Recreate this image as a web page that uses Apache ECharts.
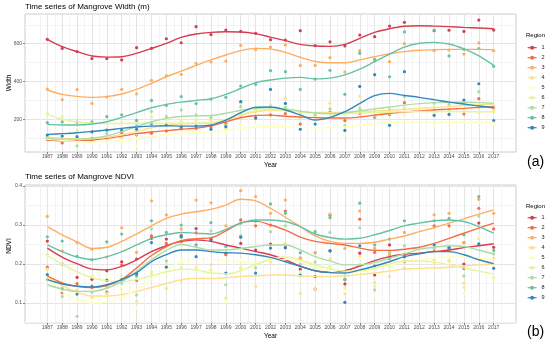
<!DOCTYPE html>
<html><head><meta charset="utf-8">
<script src="https://cdn.jsdelivr.net/npm/echarts@6/dist/echarts.min.js"></script>
<style>html,body{margin:0;padding:0;background:#fff}#c{width:550px;height:343px}</style>
</head><body><div id="c"></div>
<script>
const regions = ['1','2','3','4','5','6','7','8','9'];
const regionColors = ['#D53E4F','#F46D43','#FDAE61','#FEE08B','#FFFFBF','#E6F598','#ABDDA4','#66C2A5','#3288BD'];
const pointYears = [1987,1988,1989,1990,1991,1992,1993,1994,1995,1996,1997,1998,1999,2000,2001,2002,2003,2004,2005,2006,2007,2008,2009,2010,2011,2013,2014,2015,2016,2017];
const fitYears = [1987,1988,1989,1990,1991,1992,1993,1994,1995,1996,1997,1998,1999,2000,2001,2002,2003,2004,2005,2006,2007,2008,2009,2010,2011,2012,2013,2014,2015,2016,2017];
const yearTicks = fitYears;
const widthTicks = [200,400,600];
const ndviTicks = [0.1,0.2,0.3,0.4];

// Panel (a) Mangrove width – observed points
const widthPts1 = [623,575,558,521,521,514,579,575,626,605,690,648,672,665,655,621,619,669,590,610,588,646,637,693,713,669,671,665,725,672];
const widthPts2 = [94,75,88,85,101,129,118,126,138,150,152,160,179,223,205,223,230,175,215,235,193,232,211,225,288,245,249,228,309,262];
const widthPts3 = [360,304,357,284,318,358,334,406,431,438,496,503,508,591,568,582,593,485,485,526,450,563,508,505,600,563,566,545,604,563];
const widthPts4 = [108,95,140,100,100,105,122,165,175,188,196,196,152,293,240,276,311,205,223,285,230,323,245,230,258,263,275,283,262,249];
const widthPts5 = [99,90,80,75,78,82,59,110,118,128,135,140,129,170,170,160,165,150,152,160,122,170,172,180,209,170,180,185,182,172];
const widthPts6 = [230,214,140,180,180,185,190,214,200,188,200,210,152,285,250,249,265,220,215,240,230,267,250,240,265,240,245,250,235,240];
const widthPts7 = [104,100,59,100,125,140,170,241,214,249,223,209,170,267,260,264,262,238,225,255,166,255,218,250,320,285,281,290,346,267];
const widthPts8 = [182,186,185,186,214,224,194,300,274,320,283,307,316,376,385,457,452,358,413,459,332,549,517,425,662,672,535,570,574,480];
const widthPts9 = [117,111,108,133,143,141,147,178,171,159,164,147,161,293,209,358,284,148,175,235,141,374,436,168,452,221,226,302,388,193];
// Panel (a) smoothed curves
const widthFit1 = [623,584,558,535,529,531,549,575,602,633,651,660,663,662,653,635,616,596,588,586,596,628,660,679,692,695,693,690,686,683,679];
const widthFit2 = [90,86,85,90,99,111,124,133,140,147,153,165,187,208,220,222,216,212,209,207,207,212,222,231,238,244,249,254,258,263,267];
const widthFit3 = [355,332,321,316,320,334,358,390,425,455,485,514,540,563,575,572,554,528,506,499,499,514,531,547,558,565,568,570,570,570,568];
const widthFit4 = [105,100,97,98,105,118,135,155,168,175,178,180,195,220,240,248,245,240,236,236,237,240,243,247,252,257,262,267,272,277,281];
const widthFit5 = [95,88,83,80,82,88,98,108,118,126,130,134,142,152,158,162,160,157,156,156,160,168,177,183,186,186,185,185,184,184,184];
const widthFit6 = [226,200,186,180,178,178,180,180,180,180,180,183,200,225,245,252,248,240,233,230,230,233,236,238,240,241,241,241,240,240,240];
const widthFit7 = [100,95,95,100,112,135,162,187,205,215,218,220,232,248,258,262,255,243,233,230,235,245,255,265,275,283,288,290,290,288,285];
const widthFit8 = [173,170,170,175,187,210,235,261,279,291,300,309,332,363,394,408,418,422,414,418,435,465,505,545,582,602,607,598,572,535,485];
const widthFit9 = [120,124,129,136,143,152,159,164,166,164,164,170,196,235,263,265,249,223,196,210,240,284,325,337,326,316,304,291,281,270,261];

// Panel (b) Mangrove NDVI – observed points
const ndviPts1 = [0.259,0.200,0.166,0.161,0.183,0.206,0.213,0.266,0.264,0.273,0.291,0.262,0.228,0.253,0.236,0.251,0.242,0.187,0.136,0.234,0.149,0.228,0.172,0.249,0.206,0.232,0.242,0.200,0.305,0.243];
const ndviPts2 = [0.192,0.127,0.150,0.140,0.128,0.198,0.158,0.272,0.253,0.258,0.280,0.265,0.224,0.313,0.298,0.300,0.336,0.215,0.229,0.325,0.160,0.315,0.230,0.230,0.225,0.298,0.298,0.255,0.343,0.290];
const ndviPts3 = [0.322,0.234,0.255,0.238,0.218,0.293,0.230,0.362,0.326,0.290,0.364,0.357,0.298,0.388,0.373,0.330,0.364,0.215,0.229,0.328,0.240,0.336,0.240,0.224,0.281,0.326,0.330,0.255,0.366,0.330];
const ndviPts4 = [0.187,0.140,0.134,0.115,0.125,0.138,0.104,0.177,0.138,0.157,0.190,0.198,0.113,0.189,0.143,0.206,0.253,0.125,0.136,0.213,0.124,0.220,0.153,0.168,0.190,0.211,0.208,0.151,0.250,0.215];
const ndviPts5 = [0.221,0.113,0.105,0.107,0.170,0.140,0.087,0.228,0.174,0.210,0.187,0.185,0.104,0.210,0.200,0.219,0.220,0.160,0.150,0.200,0.130,0.215,0.121,0.200,0.215,0.230,0.225,0.125,0.270,0.162];
const ndviPts6 = [0.225,0.200,0.130,0.168,0.160,0.170,0.168,0.180,0.200,0.190,0.188,0.185,0.113,0.190,0.200,0.205,0.210,0.180,0.190,0.195,0.140,0.200,0.143,0.195,0.210,0.200,0.210,0.140,0.265,0.165];
const ndviPts7 = [0.160,0.117,0.066,0.128,0.141,0.151,0.121,0.290,0.208,0.269,0.249,0.285,0.147,0.273,0.190,0.283,0.298,0.200,0.205,0.281,0.170,0.293,0.134,0.230,0.247,0.240,0.236,0.170,0.323,0.226];
const ndviPts8 = [0.270,0.259,0.220,0.211,0.257,0.277,0.170,0.311,0.281,0.300,0.249,0.306,0.245,0.305,0.310,0.354,0.330,0.229,0.283,0.319,0.161,0.356,0.249,0.264,0.311,0.311,0.317,0.275,0.373,0.235];
const ndviPts9 = [0.173,0.136,0.123,0.143,0.158,0.160,0.175,0.255,0.192,0.270,0.219,0.262,0.177,0.269,0.177,0.241,0.242,0.172,0.168,0.234,0.102,0.247,0.195,0.215,0.219,0.249,0.242,0.189,0.252,0.189];
// Panel (b) smoothed curves
const ndviFit1 = [0.241,0.218,0.201,0.187,0.185,0.194,0.211,0.232,0.247,0.258,0.262,0.258,0.249,0.241,0.232,0.224,0.211,0.195,0.183,0.179,0.183,0.195,0.209,0.219,0.225,0.228,0.232,0.236,0.242,0.247,0.252];
const ndviFit2 = [0.170,0.152,0.143,0.140,0.145,0.160,0.190,0.222,0.245,0.260,0.265,0.267,0.285,0.305,0.310,0.300,0.287,0.269,0.258,0.253,0.249,0.241,0.235,0.235,0.238,0.243,0.253,0.266,0.279,0.292,0.305];
const ndviFit3 = [0.296,0.275,0.257,0.240,0.243,0.258,0.277,0.298,0.317,0.328,0.334,0.340,0.351,0.366,0.362,0.343,0.320,0.296,0.272,0.258,0.253,0.253,0.256,0.264,0.272,0.283,0.293,0.305,0.316,0.328,0.339];
const ndviFit4 = [0.165,0.145,0.128,0.118,0.118,0.122,0.130,0.140,0.150,0.160,0.163,0.163,0.165,0.168,0.170,0.172,0.172,0.170,0.168,0.168,0.170,0.173,0.177,0.182,0.187,0.189,0.190,0.192,0.195,0.198,0.200];
const ndviFit5 = [0.160,0.130,0.110,0.100,0.103,0.115,0.135,0.160,0.185,0.205,0.212,0.212,0.208,0.205,0.205,0.210,0.212,0.205,0.192,0.182,0.178,0.180,0.188,0.197,0.206,0.212,0.216,0.218,0.218,0.215,0.212];
const ndviFit6 = [0.222,0.200,0.180,0.165,0.157,0.155,0.160,0.170,0.180,0.187,0.185,0.177,0.175,0.183,0.198,0.213,0.218,0.210,0.198,0.188,0.182,0.183,0.190,0.200,0.208,0.208,0.205,0.198,0.190,0.182,0.175];
const ndviFit7 = [0.147,0.136,0.130,0.130,0.138,0.155,0.181,0.211,0.235,0.250,0.243,0.236,0.236,0.240,0.245,0.249,0.249,0.236,0.219,0.208,0.198,0.198,0.204,0.215,0.226,0.238,0.243,0.247,0.245,0.236,0.226];
const ndviFit8 = [0.249,0.232,0.218,0.212,0.219,0.232,0.249,0.266,0.275,0.281,0.279,0.277,0.289,0.305,0.313,0.313,0.309,0.296,0.277,0.268,0.264,0.266,0.275,0.286,0.298,0.305,0.311,0.313,0.309,0.296,0.279];
const ndviFit9 = [0.160,0.149,0.143,0.141,0.147,0.160,0.178,0.206,0.224,0.236,0.236,0.232,0.229,0.228,0.224,0.217,0.206,0.194,0.183,0.178,0.177,0.185,0.195,0.206,0.219,0.226,0.232,0.232,0.224,0.211,0.201];

const widthPts = [widthPts1,widthPts2,widthPts3,widthPts4,widthPts5,widthPts6,widthPts7,widthPts8,widthPts9];
const widthFit = [widthFit1,widthFit2,widthFit3,widthFit4,widthFit5,widthFit6,widthFit7,widthFit8,widthFit9];
const ndviPts = [ndviPts1,ndviPts2,ndviPts3,ndviPts4,ndviPts5,ndviPts6,ndviPts7,ndviPts8,ndviPts9];
const ndviFit = [ndviFit1,ndviFit2,ndviFit3,ndviFit4,ndviFit5,ndviFit6,ndviFit7,ndviFit8,ndviFit9];

const FONT = '"Liberation Sans", Arial, Helvetica, sans-serif';
const MAJ = '#e4e4e4', MIN = '#f3f3f3';

// gridline positions (axis config, not data)
const xGrid = []; for (let v = 1986.5; v <= 2017.5001; v += 0.5) xGrid.push(+v.toFixed(1));
const xGridCol = xGrid.map(v => Number.isInteger(v) ? MAJ : MIN);
const wGrid = [100,200,300,400,500,600,700];
const wGridCol = wGrid.map(v => v % 200 === 0 ? MAJ : MIN);
const nGrid = [0.05,0.1,0.15,0.2,0.25,0.3,0.35,0.4];
const nGridCol = nGrid.map((v,i) => i % 2 === 1 ? MAJ : MIN);

const panels = [
  {top: 14, ymin: 27, ymax: 757, grid: wGrid, gridCol: wGridCol, ticks: widthTicks, fmt: v => String(v), pts: widthPts, fit: widthFit},
  {top: 185, ymin: 0.049, ymax: 0.4026, grid: nGrid, gridCol: nGridCol, ticks: ndviTicks, fmt: v => v.toFixed(1), pts: ndviPts, fit: ndviFit}
];

const grids = [], xAxes = [], yAxes = [], series = [];
panels.forEach((p, g) => {
  grids.push({left: 25, top: p.top, width: 491, height: 138, show: true, borderColor: '#cccccc', borderWidth: 1, backgroundColor: '#fff'});
  xAxes.push({type: 'value', gridIndex: g, min: 1985.5, max: 2018.5, position: 'bottom',
    axisLine: {show: false}, axisLabel: {show: false},
    axisTick: {show: false, customValues: xGrid},
    splitLine: {show: true, lineStyle: {color: xGridCol, width: 1}}});
  xAxes.push({type: 'value', gridIndex: g, min: 1985.5, max: 2018.5, position: 'bottom',
    axisLine: {show: false}, splitLine: {show: false},
    axisTick: {show: true, customValues: yearTicks, length: 2, lineStyle: {color: '#333', width: 0.6}},
    axisLabel: {customValues: yearTicks, fontSize: 5, color: '#4d4d4d', margin: 2, fontFamily: FONT, formatter: v => String(v)}});
  yAxes.push({type: 'value', gridIndex: g, min: p.ymin, max: p.ymax, position: 'left',
    axisLine: {show: false}, axisLabel: {show: false},
    axisTick: {show: false, customValues: p.grid},
    splitLine: {show: true, lineStyle: {color: p.gridCol, width: 1}}});
  yAxes.push({type: 'value', gridIndex: g, min: p.ymin, max: p.ymax, position: 'left',
    axisLine: {show: false}, splitLine: {show: false},
    axisTick: {show: true, customValues: p.ticks, length: 2, lineStyle: {color: '#333', width: 0.6}},
    axisLabel: {customValues: p.ticks, fontSize: 5, color: '#4d4d4d', margin: 3, fontFamily: FONT, formatter: p.fmt}});
  regions.forEach((r, i) => {
    series.push({type: 'scatter', name: 'pts' + g + '_' + r, xAxisIndex: 2 * g, yAxisIndex: 2 * g,
      symbol: 'circle', symbolSize: 3.2, itemStyle: {color: regionColors[i], opacity: 1}, z: 2, silent: true,
      data: pointYears.map((y, k) => [y, p.pts[i][k]])});
  });
  regions.forEach((r, i) => {
    series.push({type: 'line', name: r, xAxisIndex: 2 * g, yAxisIndex: 2 * g,
      smooth: 0.35, showSymbol: false, symbol: 'circle', symbolSize: 4, z: 3, silent: true,
      itemStyle: {color: regionColors[i]}, lineStyle: {color: regionColors[i], width: 1.4},
      data: fitYears.map((y, k) => [y, p.fit[i][k]])});
  });
});

const legendBase = {orient: 'vertical', left: 527, itemWidth: 9, itemHeight: 5, itemGap: 4, padding: 0,
  selectedMode: false, data: regions, lineStyle: {width: 1.2},
  textStyle: {fontSize: 5.5, color: '#1a1a1a', fontFamily: FONT}};

const txt = (x, y, text, size, extra) => Object.assign({type: 'text', x: x, y: y, silent: true,
  style: Object.assign({text: text, fontSize: size, fill: '#000', fontFamily: FONT, verticalAlign: 'middle', textAlign: 'left'}, extra || {})});

const option = {
  animation: false,
  backgroundColor: '#fff',
  grid: grids, xAxis: xAxes, yAxis: yAxes, series: series,
  legend: [Object.assign({top: 44.7}, legendBase), Object.assign({top: 214.7}, legendBase)],
  graphic: [
    txt(25, 7, 'Time series of Mangrove Width (m)', 8),
    txt(25, 177, 'Time series of Mangrove NDVI', 8),
    txt(270.5, 165, 'Year', 6.5, {textAlign: 'center'}),
    txt(270.5, 336, 'Year', 6.5, {textAlign: 'center'}),
    Object.assign(txt(9, 83, 'Width', 6.5, {textAlign: 'center'}), {rotation: Math.PI / 2}),
    Object.assign(txt(9, 246, 'NDVI', 6.5, {textAlign: 'center'}), {rotation: Math.PI / 2}),
    txt(526, 35, 'Region', 6),
    txt(526, 206.7, 'Region', 6),
    txt(527, 162, '(a)', 14),
    txt(527, 332, '(b)', 14)
  ]
};
const chart = echarts.init(document.getElementById('c'), null, {renderer: 'canvas', width: 550, height: 343});
chart.setOption(option);
</script></body></html>
